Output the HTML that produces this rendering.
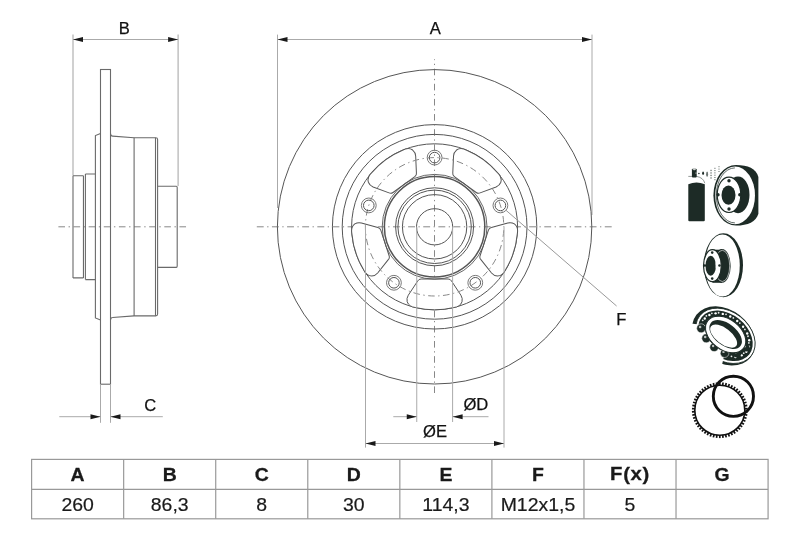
<!DOCTYPE html>
<html><head><meta charset="utf-8"><style>
html,body{margin:0;padding:0;background:#fff;}
svg{display:block;will-change:transform;}
text{font-family:"Liberation Sans",sans-serif;}
</style></head><body>
<svg width="800" height="533" viewBox="0 0 800 533">
<path d="M58.4,226.8 L65,226.8 M68.56,226.8 L69.97,226.8 M73.53,226.8 L80.13,226.8 M83.69,226.8 L85.09,226.8 M88.66,226.8 L95.26,226.8 M98.82,226.8 L100.22,226.8 M103.79,226.8 L110.39,226.8 M113.95,226.8 L115.35,226.8 M118.92,226.8 L125.52,226.8 M129.09,226.8 L130.49,226.8 M134.05,226.8 L140.65,226.8 M144.22,226.8 L145.62,226.8 M149.18,226.8 L155.78,226.8 M159.34,226.8 L160.75,226.8 M164.31,226.8 L170.91,226.8 M174.47,226.8 L175.88,226.8 M179.44,226.8 L186.04,226.8" stroke="#888" stroke-width="1" fill="none"/>
<line x1="73" y1="34.5" x2="73" y2="175.5" stroke="#aaa" stroke-width="1.1" />
<line x1="178.1" y1="34.5" x2="178.1" y2="186" stroke="#aaa" stroke-width="1.1" />
<line x1="73" y1="39.5" x2="178.1" y2="39.5" stroke="#aaa" stroke-width="1" />
<path d="M73,39.5 L83,37 L83,42 Z" fill="#1a1a1a"/>
<path d="M178.1,39.5 L168.1,42 L168.1,37 Z" fill="#1a1a1a"/>
<text x="124.4" y="34.3" font-size="16.6" font-weight="normal" text-anchor="middle" fill="#111" stroke="#111" stroke-width="0.25" >B</text>
<rect x="100.5" y="69.5" width="10" height="314.7" fill="none" stroke="#6a6a6a" stroke-width="1.1"/>
<line x1="100.5" y1="384.2" x2="100.5" y2="422.8" stroke="#aaa" stroke-width="1" />
<line x1="110.5" y1="384.2" x2="110.5" y2="422.8" stroke="#aaa" stroke-width="1" />
<line x1="59.3" y1="416.7" x2="100.5" y2="416.7" stroke="#aaa" stroke-width="1" />
<line x1="110.5" y1="416.7" x2="162.8" y2="416.7" stroke="#aaa" stroke-width="1" />
<path d="M100.5,416.7 L90.5,419.2 L90.5,414.2 Z" fill="#1a1a1a"/>
<path d="M110.5,416.7 L120.5,414.2 L120.5,419.2 Z" fill="#1a1a1a"/>
<text x="150.3" y="411.2" font-size="16.6" font-weight="normal" text-anchor="middle" fill="#111" stroke="#111" stroke-width="0.25" >C</text>
<path d="M73,175.7 H83.45 M73,277.9 H83.45 M73,175.7 V277.9 M83.45,175.7 V277.9 M85.4,174 V279.6 M85.4,174 H95.4 M85.4,279.6 H95.4" stroke="#6a6a6a" stroke-width="1.1" fill="none"/>
<path d="M100.5,133.5 L95.4,135.6 V318 L100.5,320.1" stroke="#6a6a6a" stroke-width="1.1" fill="none"/>
<path d="M110.5,133.6 Q110.8,136.1 112.5,136.1 L134,137.7 H155.8 Q157.6,137.7 157.6,139.5 V314.1 Q157.6,315.9 155.8,315.9 H134 L112.5,317.5 Q110.8,317.5 110.5,320" stroke="#6a6a6a" stroke-width="1.1" fill="none"/>
<line x1="155.5" y1="137.8" x2="155.5" y2="315.8" stroke="#6a6a6a" stroke-width="1.1" />
<line x1="134.1" y1="137.7" x2="134.1" y2="315.9" stroke="#6a6a6a" stroke-width="1.1" />
<path d="M157.6,186.3 H176.3 Q177.2,186.3 177.2,187.5 V266.1 Q177.2,267.4 176.3,267.4 H157.6" stroke="#6a6a6a" stroke-width="1.1" fill="none"/>
<path d="M256.8,226.8 L263.7,226.8 M267.17,226.8 L268.47,226.8 M271.93,226.8 L278.83,226.8 M282.3,226.8 L283.6,226.8 M287.06,226.8 L293.96,226.8 M297.43,226.8 L298.73,226.8 M302.19,226.8 L309.09,226.8 M312.56,226.8 L313.86,226.8 M317.32,226.8 L324.22,226.8 M327.69,226.8 L328.99,226.8 M332.45,226.8 L339.35,226.8 M342.82,226.8 L344.12,226.8 M347.58,226.8 L354.48,226.8 M357.95,226.8 L359.25,226.8 M362.71,226.8 L369.61,226.8 M373.08,226.8 L374.38,226.8 M377.84,226.8 L384.74,226.8 M388.21,226.8 L389.5,226.8 M392.97,226.8 L399.87,226.8 M403.34,226.8 L404.63,226.8 M408.1,226.8 L415,226.8 M418.47,226.8 L419.76,226.8 M423.23,226.8 L430.13,226.8 M433.6,226.8 L434.89,226.8 M438.36,226.8 L445.26,226.8 M448.73,226.8 L450.02,226.8 M453.49,226.8 L460.39,226.8 M463.86,226.8 L465.15,226.8 M468.62,226.8 L475.52,226.8 M478.99,226.8 L480.28,226.8 M483.75,226.8 L490.65,226.8 M494.12,226.8 L495.41,226.8 M498.88,226.8 L505.78,226.8 M509.25,226.8 L510.54,226.8 M514.01,226.8 L520.91,226.8 M524.38,226.8 L525.67,226.8 M529.14,226.8 L536.04,226.8 M539.5,226.8 L540.8,226.8 M544.27,226.8 L551.17,226.8 M554.63,226.8 L555.93,226.8 M559.4,226.8 L566.3,226.8 M569.76,226.8 L571.06,226.8 M574.53,226.8 L581.43,226.8 M584.89,226.8 L586.19,226.8 M589.66,226.8 L596.56,226.8 M600.02,226.8 L601.32,226.8 M604.79,226.8 L611.69,226.8" stroke="#888" stroke-width="1" fill="none"/>
<path d="M434.5,59.3 L434.5,60.14 M434.5,63.75 L434.5,65.05 M434.5,68.67 L434.5,75.27 M434.5,78.88 L434.5,80.19 M434.5,83.8 L434.5,90.4 M434.5,94.02 L434.5,95.31 M434.5,98.93 L434.5,105.53 M434.5,109.15 L434.5,110.44 M434.5,114.06 L434.5,120.66 M434.5,124.28 L434.5,125.58 M434.5,129.19 L434.5,135.79 M434.5,139.4 L434.5,140.7 M434.5,144.32 L434.5,150.92 M434.5,154.53 L434.5,155.83 M434.5,159.45 L434.5,166.05 M434.5,169.66 L434.5,170.96 M434.5,174.58 L434.5,181.18 M434.5,184.79 L434.5,186.09 M434.5,189.71 L434.5,196.31 M434.5,199.93 L434.5,201.23 M434.5,204.84 L434.5,211.44 M434.5,215.06 L434.5,216.36 M434.5,219.97 L434.5,226.57 M434.5,230.19 L434.5,231.49 M434.5,235.1 L434.5,241.7 M434.5,245.31 L434.5,246.62 M434.5,250.23 L434.5,256.83 M434.5,260.44 L434.5,261.75 M434.5,265.36 L434.5,271.96 M434.5,275.57 L434.5,276.88 M434.5,280.49 L434.5,287.09 M434.5,290.7 L434.5,292 M434.5,295.62 L434.5,302.22 M434.5,305.83 L434.5,307.13 M434.5,310.75 L434.5,317.35 M434.5,320.96 L434.5,322.26 M434.5,325.88 L434.5,332.48 M434.5,336.1 L434.5,337.4 M434.5,341.01 L434.5,347.61 M434.5,351.23 L434.5,352.53 M434.5,356.14 L434.5,362.74 M434.5,366.36 L434.5,367.66 M434.5,371.27 L434.5,377.87 M434.5,381.49 L434.5,382.79 M434.5,386.4 L434.5,393" stroke="#888" stroke-width="1" fill="none"/>
<line x1="277.5" y1="34.6" x2="277.5" y2="208" stroke="#aaa" stroke-width="1" />
<line x1="592" y1="34.6" x2="592" y2="215" stroke="#aaa" stroke-width="1" />
<line x1="277.5" y1="39.5" x2="592" y2="39.5" stroke="#aaa" stroke-width="1" />
<path d="M277.5,39.5 L287.5,37 L287.5,42 Z" fill="#1a1a1a"/>
<path d="M592,39.5 L582,42 L582,37 Z" fill="#1a1a1a"/>
<text x="435.2" y="34.4" font-size="16.6" font-weight="normal" text-anchor="middle" fill="#111" stroke="#111" stroke-width="0.25" >A</text>
<circle cx="434.6" cy="226.8" r="157.2" stroke="#555" stroke-width="1" fill="none" />
<circle cx="434.6" cy="226.8" r="102.2" stroke="#555" stroke-width="1" fill="none" />
<circle cx="434.6" cy="226.8" r="92.4" stroke="#555" stroke-width="1" fill="none" />
<circle cx="434.6" cy="226.8" r="83" stroke="#555" stroke-width="1" fill="none" />
<path d="M -13.5,-52.2 L 13.5,-52.2 Q 15.9,-52.2 16.9,-54.2 L 26.3,-68.4 Q 28.3,-71.6 27.4,-75 Q 25.6,-80 19,-80.8 A 83 83 0 0 0 -19,-80.8 Q -25.6,-80 -27.4,-75 Q -28.3,-71.6 -26.3,-68.4 L -16.9,-54.2 Q -15.9,-52.2 -13.5,-52.2 Z" transform="translate(434.6,226.8) rotate(-36)" fill="#fff" stroke="#555" stroke-width="1"/>
<path d="M -13.5,-52.2 L 13.5,-52.2 Q 15.9,-52.2 16.9,-54.2 L 26.3,-68.4 Q 28.3,-71.6 27.4,-75 Q 25.6,-80 19,-80.8 A 83 83 0 0 0 -19,-80.8 Q -25.6,-80 -27.4,-75 Q -28.3,-71.6 -26.3,-68.4 L -16.9,-54.2 Q -15.9,-52.2 -13.5,-52.2 Z" transform="translate(434.6,226.8) rotate(36)" fill="#fff" stroke="#555" stroke-width="1"/>
<path d="M -13.5,-52.2 L 13.5,-52.2 Q 15.9,-52.2 16.9,-54.2 L 26.3,-68.4 Q 28.3,-71.6 27.4,-75 Q 25.6,-80 19,-80.8 A 83 83 0 0 0 -19,-80.8 Q -25.6,-80 -27.4,-75 Q -28.3,-71.6 -26.3,-68.4 L -16.9,-54.2 Q -15.9,-52.2 -13.5,-52.2 Z" transform="translate(434.6,226.8) rotate(108)" fill="#fff" stroke="#555" stroke-width="1"/>
<path d="M -13.5,-52.2 L 13.5,-52.2 Q 15.9,-52.2 16.9,-54.2 L 26.3,-68.4 Q 28.3,-71.6 27.4,-75 Q 25.6,-80 19,-80.8 A 83 83 0 0 0 -19,-80.8 Q -25.6,-80 -27.4,-75 Q -28.3,-71.6 -26.3,-68.4 L -16.9,-54.2 Q -15.9,-52.2 -13.5,-52.2 Z" transform="translate(434.6,226.8) rotate(180)" fill="#fff" stroke="#555" stroke-width="1"/>
<path d="M -13.5,-52.2 L 13.5,-52.2 Q 15.9,-52.2 16.9,-54.2 L 26.3,-68.4 Q 28.3,-71.6 27.4,-75 Q 25.6,-80 19,-80.8 A 83 83 0 0 0 -19,-80.8 Q -25.6,-80 -27.4,-75 Q -28.3,-71.6 -26.3,-68.4 L -16.9,-54.2 Q -15.9,-52.2 -13.5,-52.2 Z" transform="translate(434.6,226.8) rotate(-108)" fill="#fff" stroke="#555" stroke-width="1"/>
<circle cx="434.6" cy="226.8" r="69.2" stroke="#888" stroke-width="1" fill="none" stroke-dasharray="6.6 3.5 1.4 3.49" stroke-dashoffset="-3.5"/>
<circle cx="434.6" cy="226.8" r="52.4" stroke="#555" stroke-width="0.9" fill="none" />
<circle cx="434.6" cy="226.8" r="50.2" stroke="#555" stroke-width="1.5" fill="none" />
<circle cx="434.6" cy="226.8" r="39" stroke="#555" stroke-width="1" fill="none" />
<circle cx="434.6" cy="226.8" r="36.7" stroke="#555" stroke-width="1" fill="none" />
<circle cx="434.6" cy="226.8" r="32.2" stroke="#555" stroke-width="1" fill="none" />
<circle cx="434.6" cy="226.8" r="18.1" stroke="#555" stroke-width="1" fill="none" />
<circle cx="434.6" cy="157.6" r="7.4" stroke="#777" stroke-width="1" fill="none" />
<circle cx="434.6" cy="157.6" r="5.3" stroke="#555" stroke-width="1" fill="none" />
<circle cx="500.41" cy="205.42" r="7.4" stroke="#777" stroke-width="1" fill="none" />
<circle cx="500.41" cy="205.42" r="5.3" stroke="#555" stroke-width="1" fill="none" />
<circle cx="475.27" cy="282.78" r="7.4" stroke="#777" stroke-width="1" fill="none" />
<circle cx="475.27" cy="282.78" r="5.3" stroke="#555" stroke-width="1" fill="none" />
<circle cx="393.93" cy="282.78" r="7.4" stroke="#777" stroke-width="1" fill="none" />
<circle cx="393.93" cy="282.78" r="5.3" stroke="#555" stroke-width="1" fill="none" />
<circle cx="368.79" cy="205.42" r="7.4" stroke="#777" stroke-width="1" fill="none" />
<circle cx="368.79" cy="205.42" r="5.3" stroke="#555" stroke-width="1" fill="none" />
<line x1="416.75" y1="226.8" x2="416.75" y2="422" stroke="#aaa" stroke-width="1" />
<line x1="452.6" y1="226.8" x2="452.6" y2="422" stroke="#aaa" stroke-width="1" />
<line x1="393.3" y1="416.7" x2="416.75" y2="416.7" stroke="#aaa" stroke-width="1" />
<line x1="452.6" y1="416.7" x2="488.5" y2="416.7" stroke="#aaa" stroke-width="1" />
<path d="M416.75,416.7 L406.75,419.2 L406.75,414.2 Z" fill="#1a1a1a"/>
<path d="M452.6,416.7 L462.6,414.2 L462.6,419.2 Z" fill="#1a1a1a"/>
<text x="475.9" y="410.3" font-size="16.6" font-weight="normal" text-anchor="middle" fill="#111" stroke="#111" stroke-width="0.25" >&#216;D</text>
<line x1="365.5" y1="226.8" x2="365.5" y2="447.6" stroke="#aaa" stroke-width="1" />
<line x1="504" y1="226.8" x2="504" y2="447.6" stroke="#aaa" stroke-width="1" />
<line x1="365.5" y1="443.5" x2="504" y2="443.5" stroke="#aaa" stroke-width="1" />
<path d="M365.5,443.5 L375.5,441 L375.5,446 Z" fill="#1a1a1a"/>
<path d="M504,443.5 L494,446 L494,441 Z" fill="#1a1a1a"/>
<text x="435" y="437.2" font-size="16.6" font-weight="normal" text-anchor="middle" fill="#111" stroke="#111" stroke-width="0.25" >&#216;E</text>
<line x1="505.9" y1="210.2" x2="616.6" y2="306" stroke="#999" stroke-width="1" />
<text x="621.4" y="325.1" font-size="16.6" font-weight="normal" text-anchor="middle" fill="#111" stroke="#111" stroke-width="0.25" >F</text>
<rect x="31.6" y="459.4" width="736.48" height="59.39999999999998" fill="none" stroke="#999" stroke-width="1.2"/>
<line x1="31.6" y1="489.3" x2="768.08" y2="489.3" stroke="#999" stroke-width="1.2" />
<line x1="123.66" y1="459.4" x2="123.66" y2="518.8" stroke="#999" stroke-width="1.2" />
<line x1="215.72" y1="459.4" x2="215.72" y2="518.8" stroke="#999" stroke-width="1.2" />
<line x1="307.78" y1="459.4" x2="307.78" y2="518.8" stroke="#999" stroke-width="1.2" />
<line x1="399.84" y1="459.4" x2="399.84" y2="518.8" stroke="#999" stroke-width="1.2" />
<line x1="491.9" y1="459.4" x2="491.9" y2="518.8" stroke="#999" stroke-width="1.2" />
<line x1="583.96" y1="459.4" x2="583.96" y2="518.8" stroke="#999" stroke-width="1.2" />
<line x1="676.02" y1="459.4" x2="676.02" y2="518.8" stroke="#999" stroke-width="1.2" />
<text x="0" y="0" font-size="18" font-weight="bold" text-anchor="middle" fill="#1a1a1a" stroke="#1a1a1a" stroke-width="0.25" transform="translate(77.63,481.2) scale(1.08,1)">A</text>
<text x="0" y="0" font-size="18" text-anchor="middle" fill="#1a1a1a" stroke="#1a1a1a" stroke-width="0.2" transform="translate(77.63,510.8) scale(1.08,1)">260</text>
<text x="0" y="0" font-size="18" font-weight="bold" text-anchor="middle" fill="#1a1a1a" stroke="#1a1a1a" stroke-width="0.25" transform="translate(169.69,481.2) scale(1.08,1)">B</text>
<text x="0" y="0" font-size="18" text-anchor="middle" fill="#1a1a1a" stroke="#1a1a1a" stroke-width="0.2" transform="translate(169.69,510.8) scale(1.08,1)">86,3</text>
<text x="0" y="0" font-size="18" font-weight="bold" text-anchor="middle" fill="#1a1a1a" stroke="#1a1a1a" stroke-width="0.25" transform="translate(261.75,481.2) scale(1.08,1)">C</text>
<text x="0" y="0" font-size="18" text-anchor="middle" fill="#1a1a1a" stroke="#1a1a1a" stroke-width="0.2" transform="translate(261.75,510.8) scale(1.08,1)">8</text>
<text x="0" y="0" font-size="18" font-weight="bold" text-anchor="middle" fill="#1a1a1a" stroke="#1a1a1a" stroke-width="0.25" transform="translate(353.81,481.2) scale(1.08,1)">D</text>
<text x="0" y="0" font-size="18" text-anchor="middle" fill="#1a1a1a" stroke="#1a1a1a" stroke-width="0.2" transform="translate(353.81,510.8) scale(1.08,1)">30</text>
<text x="0" y="0" font-size="18" font-weight="bold" text-anchor="middle" fill="#1a1a1a" stroke="#1a1a1a" stroke-width="0.25" transform="translate(445.87,481.2) scale(1.08,1)">E</text>
<text x="0" y="0" font-size="18" text-anchor="middle" fill="#1a1a1a" stroke="#1a1a1a" stroke-width="0.2" transform="translate(445.87,510.8) scale(1.08,1)">114,3</text>
<text x="0" y="0" font-size="18" font-weight="bold" text-anchor="middle" fill="#1a1a1a" stroke="#1a1a1a" stroke-width="0.25" transform="translate(537.93,481.2) scale(1.08,1)">F</text>
<text x="0" y="0" font-size="18" text-anchor="middle" fill="#1a1a1a" stroke="#1a1a1a" stroke-width="0.2" transform="translate(537.93,510.8) scale(1.08,1)">M12x1,5</text>
<text x="0" y="0" font-size="18.8" font-weight="bold" text-anchor="middle" letter-spacing="0.6" fill="#1a1a1a" stroke="#1a1a1a" stroke-width="0.3" transform="translate(629.99,480.1) scale(1.08,1)">F(x)</text>
<text x="0" y="0" font-size="18" text-anchor="middle" fill="#1a1a1a" stroke="#1a1a1a" stroke-width="0.2" transform="translate(629.99,510.8) scale(1.08,1)">5</text>
<text x="0" y="0" font-size="18" font-weight="bold" text-anchor="middle" fill="#1a1a1a" stroke="#1a1a1a" stroke-width="0.25" transform="translate(722.05,481.2) scale(1.08,1)">G</text>

<g fill="#1d2b26">
 <path d="M688.3,184.3 Q696.5,180.8 704.8,184.3 V220.2 Q704.8,221.3 703.7,221.3 H689.4 Q688.3,221.3 688.3,220.2 Z"/>
 <path d="M688.3,176.4 H696.6 Q703.4,177.6 704.8,183.2" fill="none" stroke="#1d2b26" stroke-width="0.6" opacity="0.8"/>
 <rect x="691.9" y="168.7" width="4.8" height="8.8" rx="0.9"/>
 <ellipse cx="694.3" cy="169.6" rx="1.8" ry="0.7" fill="#fff" opacity="0.8"/>
 <circle cx="696" cy="173" r="0.6" fill="#fff"/>
 <circle cx="698.9" cy="173.5" r="0.8"/><ellipse cx="703.1" cy="173.3" rx="0.95" ry="1.7"/><ellipse cx="707.1" cy="174.2" rx="1.0" ry="2.6" opacity="0.65"/><rect x="710.3" y="169.8" width="1.5" height="1.3" opacity="0.55"/><rect x="710.3" y="172.3" width="1.5" height="1.3" opacity="0.55"/><rect x="710.3" y="174.8" width="1.5" height="1.3" opacity="0.55"/><rect x="710.3" y="177.3" width="1.5" height="1.3" opacity="0.55"/><rect x="714.2" y="167.8" width="1.4" height="1.0" opacity="0.55"/><rect x="714.2" y="170.1" width="1.4" height="1.0" opacity="0.55"/><rect x="714.2" y="172.4" width="1.4" height="1.0" opacity="0.55"/><rect x="714.2" y="174.7" width="1.4" height="1.0" opacity="0.55"/><rect x="714.2" y="177.0" width="1.4" height="1.0" opacity="0.55"/><rect x="714.2" y="179.2" width="1.4" height="1.0" opacity="0.55"/><rect x="718.3" y="166.2" width="1.4" height="1.0" opacity="0.5"/><rect x="718.3" y="168.6" width="1.4" height="1.0" opacity="0.5"/><rect x="718.3" y="171.0" width="1.4" height="1.0" opacity="0.5"/>
 <path d="M736,165 C748,165 756,168.5 758.4,177 V213.8 C756,222 748,225.6 736,225.6 A22.6 30.3 0 0 1 736,165 Z"/>
 <ellipse cx="735.1" cy="195.4" rx="19.9" ry="28.9" fill="#fff"/>
 <path d="M734.9,167.9 A18.6 27.5 0 0 0 734.9,222.9" fill="none" stroke="#1d2b26" stroke-width="0.7"/>
 <ellipse cx="738" cy="194.8" rx="11.5" ry="18.4"/>
 <ellipse cx="729" cy="194.8" rx="11.8" ry="17.7" fill="#fff" stroke="#1d2b26" stroke-width="1.2"/>
 <ellipse cx="728.5" cy="195.1" rx="7" ry="9.6"/>
 <circle cx="729" cy="180.8" r="1.7"/><circle cx="729" cy="209" r="1.7"/>
 <circle cx="718" cy="194.8" r="1.7"/><circle cx="739.8" cy="194.8" r="1.7"/>
</g>

<g fill="#1d2b26">
 <ellipse cx="723.4" cy="265.3" rx="19.6" ry="32"/>
 <ellipse cx="722.4" cy="265.5" rx="17.4" ry="31" fill="#fff"/>
 <path d="M712.4,249.7 H722 V282.8 H712.4 Z"/>
 <ellipse cx="722" cy="265.9" rx="8.7" ry="16.9"/>
 <ellipse cx="722.3" cy="265.9" rx="7.4" ry="15.6" fill="none" stroke="#fff" stroke-width="0.6"/>
 <ellipse cx="712.4" cy="265.7" rx="8.9" ry="16" fill="#fff" stroke="#1d2b26" stroke-width="1.2"/>
 <ellipse cx="710.7" cy="265.8" rx="5.2" ry="10"/>
 <ellipse cx="716.2" cy="264.5" rx="0.8" ry="4" fill="#fff" opacity="0.7"/>
 <circle cx="712.2" cy="252.6" r="1.3"/><circle cx="712.2" cy="278.6" r="1.3"/>
 <circle cx="704.8" cy="265.5" r="1.3"/><circle cx="719.5" cy="265.5" r="1.3"/>
</g>

<ellipse cx="723.6" cy="335.9" rx="34.5" ry="26.2" transform="rotate(38 723.6 335.9)" fill="#1d2b26"/>
<ellipse cx="725.44" cy="335.82" rx="32.6" ry="24.2" transform="rotate(38 725.44 335.82)" fill="#fff" stroke="#1d2b26" stroke-width="0.8"/>
<ellipse cx="725.44" cy="335.82" rx="30.2" ry="21.7" transform="rotate(38 725.44 335.82)" fill="#1d2b26"/>
<circle cx="703.21" cy="320.96" r="2.1" fill="#1d2b26"/><circle cx="702.71" cy="320.36" r="0.9" fill="#fff" opacity="0.9"/><circle cx="706.87" cy="316.51" r="2.1" fill="#1d2b26"/><circle cx="706.37" cy="315.91" r="0.9" fill="#fff" opacity="0.9"/><circle cx="712.36" cy="313.89" r="2.1" fill="#1d2b26"/><circle cx="711.86" cy="313.29" r="0.9" fill="#fff" opacity="0.9"/><circle cx="719.13" cy="313.35" r="2.1" fill="#1d2b26"/><circle cx="718.63" cy="312.75" r="0.9" fill="#fff" opacity="0.9"/><circle cx="726.54" cy="314.95" r="2.1" fill="#1d2b26"/><circle cx="726.04" cy="314.35" r="0.9" fill="#fff" opacity="0.9"/><circle cx="733.85" cy="318.52" r="2.1" fill="#1d2b26"/><circle cx="733.35" cy="317.92" r="0.9" fill="#fff" opacity="0.9"/><circle cx="740.34" cy="323.72" r="2.1" fill="#1d2b26"/><circle cx="739.84" cy="323.12" r="0.9" fill="#fff" opacity="0.9"/><circle cx="745.39" cy="330.04" r="2.1" fill="#1d2b26"/><circle cx="744.89" cy="329.44" r="0.9" fill="#fff" opacity="0.9"/><circle cx="748.49" cy="336.87" r="2.1" fill="#1d2b26"/><circle cx="747.99" cy="336.27" r="0.9" fill="#fff" opacity="0.9"/><circle cx="749.35" cy="343.52" r="2.1" fill="#1d2b26"/><circle cx="748.85" cy="342.92" r="0.9" fill="#fff" opacity="0.9"/><circle cx="747.88" cy="349.36" r="2.1" fill="#1d2b26"/><circle cx="747.38" cy="348.76" r="0.9" fill="#fff" opacity="0.9"/><circle cx="744.22" cy="353.8" r="2.1" fill="#1d2b26"/><circle cx="743.72" cy="353.2" r="0.9" fill="#fff" opacity="0.9"/><circle cx="738.74" cy="356.42" r="2.1" fill="#1d2b26"/><circle cx="738.24" cy="355.82" r="0.9" fill="#fff" opacity="0.9"/><circle cx="731.96" cy="356.96" r="2.1" fill="#1d2b26"/><circle cx="731.46" cy="356.36" r="0.9" fill="#fff" opacity="0.9"/><circle cx="704.79" cy="318.53" r="1.2" fill="#fff"/><circle cx="709.41" cy="314.95" r="1.2" fill="#fff"/><circle cx="715.62" cy="313.35" r="1.2" fill="#fff"/><circle cx="722.8" cy="313.89" r="1.2" fill="#fff"/><circle cx="730.25" cy="316.5" r="1.2" fill="#fff"/><circle cx="737.24" cy="320.95" r="1.2" fill="#fff"/><circle cx="743.08" cy="326.78" r="1.2" fill="#fff"/><circle cx="747.21" cy="333.43" r="1.2" fill="#fff"/><circle cx="749.21" cy="340.26" r="1.2" fill="#fff"/><circle cx="748.9" cy="346.58" r="1.2" fill="#fff"/><circle cx="746.31" cy="351.79" r="1.2" fill="#fff"/><circle cx="741.68" cy="355.36" r="1.2" fill="#fff"/><circle cx="735.47" cy="356.96" r="1.2" fill="#fff"/>
<path d="M721.86,365.58 L719.56,364.86 L717.28,363.99 L715.03,362.99 L712.82,361.86 L710.66,360.6 L708.57,359.22 L706.55,357.73 L704.61,356.13 L702.76,354.43 L701.02,352.64 L699.39,350.77 L697.87,348.83 L696.48,346.83 L695.22,344.77 L694.1,342.67 L693.13,340.53 L692.3,338.37 L691.63,336.21 L691.11,334.03 L690.75,331.87 L690.55,329.73 L690.51,327.62 L690.63,325.55 L690.91,323.53 L705.14,325.34 L704.99,326.52 L704.94,327.73 L704.99,328.98 L705.14,330.26 L705.39,331.56 L705.74,332.87 L706.19,334.2 L706.73,335.52 L707.36,336.83 L708.08,338.14 L708.89,339.43 L709.78,340.69 L710.75,341.93 L711.79,343.13 L712.9,344.28 L714.06,345.39 L715.29,346.44 L716.57,347.44 L717.89,348.38 L719.24,349.24 L720.63,350.04 L722.05,350.75 L723.48,351.39 L724.92,351.95 Z" fill="#fff"/>
<circle cx="701.2" cy="328.3" r="4.5" fill="#1d2b26" stroke="#fff" stroke-width="0.5"/><circle cx="700.1" cy="327" r="1.26" fill="#fff" opacity="0.7"/><circle cx="706.3" cy="338.3" r="4.5" fill="#1d2b26" stroke="#fff" stroke-width="0.5"/><circle cx="705.2" cy="337" r="1.26" fill="#fff" opacity="0.7"/><circle cx="714.2" cy="347.2" r="4.4" fill="#1d2b26" stroke="#fff" stroke-width="0.5"/><circle cx="713.1" cy="345.9" r="1.23" fill="#fff" opacity="0.7"/><circle cx="724.6" cy="353.2" r="4.3" fill="#1d2b26" stroke="#fff" stroke-width="0.5"/><circle cx="723.5" cy="351.9" r="1.2" fill="#fff" opacity="0.7"/><circle cx="737" cy="353.6" r="4.0" fill="#1d2b26" stroke="#fff" stroke-width="0"/><circle cx="735.9" cy="352.3" r="1.12" fill="#fff" opacity="0.7"/><circle cx="746" cy="347.8" r="3.6" fill="#1d2b26" stroke="#fff" stroke-width="0"/><circle cx="744.9" cy="346.5" r="1.01" fill="#fff" opacity="0.7"/>
<g transform="translate(725.65,334.5) rotate(38)">
 <ellipse rx="22.6" ry="15.2" fill="#fff" stroke="#1d2b26" stroke-width="1"/>
 <ellipse rx="18.8" ry="10.9" fill="#1d2b26"/>
 <ellipse cx="-0.6" cy="2.5" rx="16" ry="7.7" fill="#fff"/>
</g>

<g transform="translate(719.8,410.2)" fill="#111">
 <circle r="25" fill="none" stroke="#111" stroke-width="1.6"/>
 <rect x="-0.85" y="-27.9" width="1.7" height="3" transform="rotate(0)"/><rect x="-0.85" y="-27.9" width="1.7" height="3" transform="rotate(6.67)"/><rect x="-0.85" y="-27.9" width="1.7" height="3" transform="rotate(13.33)"/><rect x="-0.85" y="-27.9" width="1.7" height="3" transform="rotate(20)"/><rect x="-0.85" y="-27.9" width="1.7" height="3" transform="rotate(26.67)"/><rect x="-0.85" y="-27.9" width="1.7" height="3" transform="rotate(33.33)"/><rect x="-0.85" y="-27.9" width="1.7" height="3" transform="rotate(40)"/><rect x="-0.85" y="-27.9" width="1.7" height="3" transform="rotate(46.67)"/><rect x="-0.85" y="-27.9" width="1.7" height="3" transform="rotate(53.33)"/><rect x="-0.85" y="-27.9" width="1.7" height="3" transform="rotate(60)"/><rect x="-0.85" y="-27.9" width="1.7" height="3" transform="rotate(66.67)"/><rect x="-0.85" y="-27.9" width="1.7" height="3" transform="rotate(73.33)"/><rect x="-0.85" y="-27.9" width="1.7" height="3" transform="rotate(80)"/><rect x="-0.85" y="-27.9" width="1.7" height="3" transform="rotate(86.67)"/><rect x="-0.85" y="-27.9" width="1.7" height="3" transform="rotate(93.33)"/><rect x="-0.85" y="-27.9" width="1.7" height="3" transform="rotate(100)"/><rect x="-0.85" y="-27.9" width="1.7" height="3" transform="rotate(106.67)"/><rect x="-0.85" y="-27.9" width="1.7" height="3" transform="rotate(113.33)"/><rect x="-0.85" y="-27.9" width="1.7" height="3" transform="rotate(120)"/><rect x="-0.85" y="-27.9" width="1.7" height="3" transform="rotate(126.67)"/><rect x="-0.85" y="-27.9" width="1.7" height="3" transform="rotate(133.33)"/><rect x="-0.85" y="-27.9" width="1.7" height="3" transform="rotate(140)"/><rect x="-0.85" y="-27.9" width="1.7" height="3" transform="rotate(146.67)"/><rect x="-0.85" y="-27.9" width="1.7" height="3" transform="rotate(153.33)"/><rect x="-0.85" y="-27.9" width="1.7" height="3" transform="rotate(160)"/><rect x="-0.85" y="-27.9" width="1.7" height="3" transform="rotate(166.67)"/><rect x="-0.85" y="-27.9" width="1.7" height="3" transform="rotate(173.33)"/><rect x="-0.85" y="-27.9" width="1.7" height="3" transform="rotate(180)"/><rect x="-0.85" y="-27.9" width="1.7" height="3" transform="rotate(186.67)"/><rect x="-0.85" y="-27.9" width="1.7" height="3" transform="rotate(193.33)"/><rect x="-0.85" y="-27.9" width="1.7" height="3" transform="rotate(200)"/><rect x="-0.85" y="-27.9" width="1.7" height="3" transform="rotate(206.67)"/><rect x="-0.85" y="-27.9" width="1.7" height="3" transform="rotate(213.33)"/><rect x="-0.85" y="-27.9" width="1.7" height="3" transform="rotate(220)"/><rect x="-0.85" y="-27.9" width="1.7" height="3" transform="rotate(226.67)"/><rect x="-0.85" y="-27.9" width="1.7" height="3" transform="rotate(233.33)"/><rect x="-0.85" y="-27.9" width="1.7" height="3" transform="rotate(240)"/><rect x="-0.85" y="-27.9" width="1.7" height="3" transform="rotate(246.67)"/><rect x="-0.85" y="-27.9" width="1.7" height="3" transform="rotate(253.33)"/><rect x="-0.85" y="-27.9" width="1.7" height="3" transform="rotate(260)"/><rect x="-0.85" y="-27.9" width="1.7" height="3" transform="rotate(266.67)"/><rect x="-0.85" y="-27.9" width="1.7" height="3" transform="rotate(273.33)"/><rect x="-0.85" y="-27.9" width="1.7" height="3" transform="rotate(280)"/><rect x="-0.85" y="-27.9" width="1.7" height="3" transform="rotate(286.67)"/><rect x="-0.85" y="-27.9" width="1.7" height="3" transform="rotate(293.33)"/><rect x="-0.85" y="-27.9" width="1.7" height="3" transform="rotate(300)"/><rect x="-0.85" y="-27.9" width="1.7" height="3" transform="rotate(306.67)"/><rect x="-0.85" y="-27.9" width="1.7" height="3" transform="rotate(313.33)"/><rect x="-0.85" y="-27.9" width="1.7" height="3" transform="rotate(320)"/><rect x="-0.85" y="-27.9" width="1.7" height="3" transform="rotate(326.67)"/><rect x="-0.85" y="-27.9" width="1.7" height="3" transform="rotate(333.33)"/><rect x="-0.85" y="-27.9" width="1.7" height="3" transform="rotate(340)"/><rect x="-0.85" y="-27.9" width="1.7" height="3" transform="rotate(346.67)"/><rect x="-0.85" y="-27.9" width="1.7" height="3" transform="rotate(353.33)"/>
</g>
<circle cx="733.4" cy="396.3" r="20.1" fill="none" stroke="#111" stroke-width="2.9"/>

</svg>
</body></html>
